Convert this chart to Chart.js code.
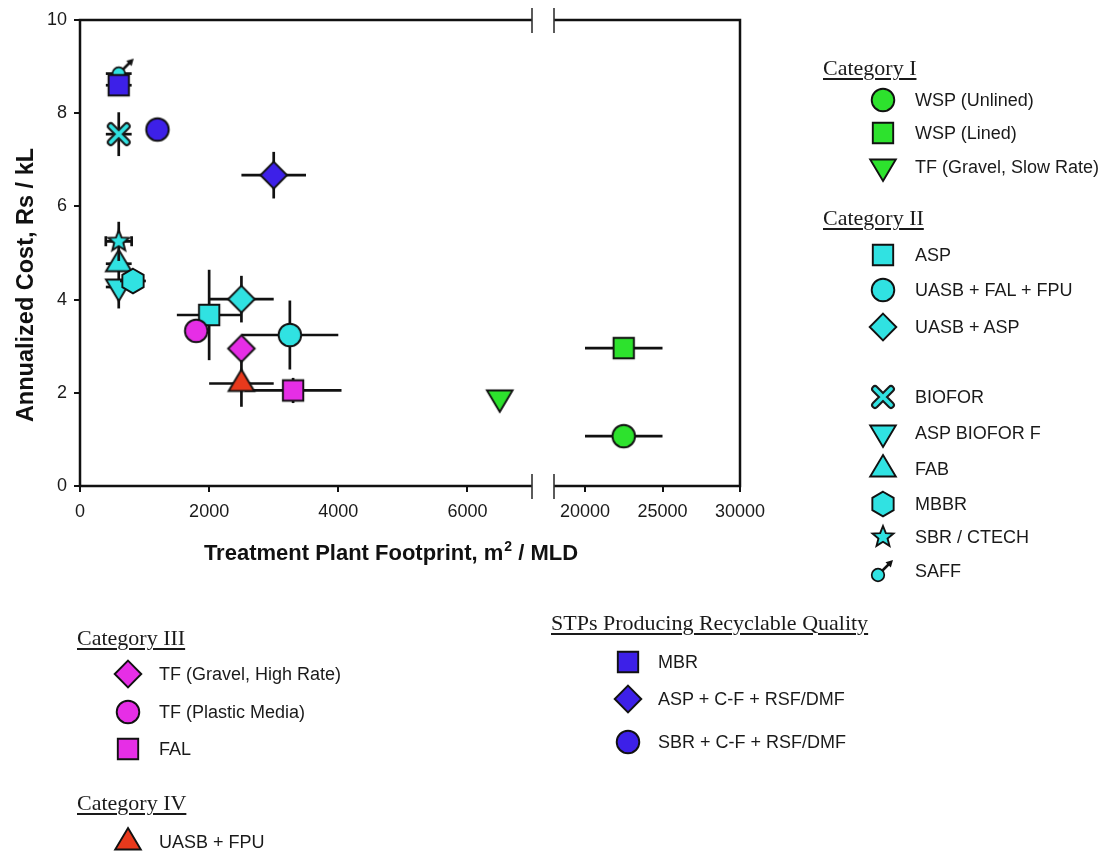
<!DOCTYPE html>
<html><head><meta charset="utf-8">
<script src="https://cdn.jsdelivr.net/npm/chart.js@4.4.1/dist/chart.umd.min.js"></script>
<style>
html,body{margin:0;padding:0;background:#fff;}
#wrap{position:relative;width:1104px;height:854px;overflow:hidden;background:#fff;}
#c{position:absolute;left:0;top:0;}
.lg{position:absolute;font-family:"Liberation Sans",Arial,sans-serif;font-size:18px;color:#1a1a1a;line-height:1;transform:translateY(-50%);white-space:nowrap;}
.cat{position:absolute;font-family:"Liberation Serif","Times New Roman",serif;font-size:22px;color:#1a1a1a;line-height:1;transform:translateY(-50%);text-decoration:underline;text-decoration-thickness:1.5px;text-underline-offset:3px;white-space:nowrap;}
.mk{position:absolute;}
</style></head><body>
<div id="wrap"><canvas id="c" width="1104" height="854"></canvas><div id="legend"></div></div>
<script>
// ---------------- DATA ----------------
const techLabels = [
  "WSP (Unlined)", "WSP (Lined)", "TF (Gravel, Slow Rate)",
  "ASP", "UASB + FAL + FPU", "UASB + ASP",
  "BIOFOR", "ASP BIOFOR F", "FAB", "MBBR", "SBR / CTECH", "SAFF",
  "TF (Gravel, High Rate)", "TF (Plastic Media)", "FAL",
  "UASB + FPU",
  "MBR", "ASP + C-F + RSF/DMF", "SBR + C-F + RSF/DMF"
];
// Treatment plant footprint, m2 / MLD
const footprint    = [22500, 22500, 6500, 2000, 3250, 2500, 600, 600, 600, 820, 600, 600, 2500, 1800, 3300, 2500, 600, 3000, 1200];
const footprintErr = [ 2500,  2500,    0,  500,  750,  500, 200, 200, 200, 200, 200, 200,    0,    0,  750,  500, 200,  500,    0];
// Annualized cost, Rs / kL
const cost    = [1.07, 2.96, 1.89, 3.67, 3.24, 4.01, 7.55, 4.27, 4.77, 4.40, 5.25, 8.85, 2.95, 3.33, 2.05, 2.20, 8.60, 6.67, 7.65];
const costErr = [0,    0,    0,    0.97, 0.74, 0.50, 0.47, 0.46, 0,    0,    0.42, 0,    0,    0,    0.27, 0.50, 0,    0.50, 0];

const xTickValues = [0, 2000, 4000, 6000, 20000, 25000, 30000];
const yTickValues = [0, 2, 4, 6, 8, 10];
const groupTitles = ["Category I", "Category II", "Category III", "Category IV", "STPs Producing Recyclable Quality"];

// ---------------- STYLE ----------------
const GREEN = '#2de22d', CYAN = '#30e2e2', MAGENTA = '#e62ee6', RED = '#e8391c', BLUE = '#3d20e8';
const shapes = ['circle','square','triDown','square','circle','diamond','xcross','triDown','triUp','hexagon','star','male','diamond','circle','square','triUp','square','diamond','circle'];
const fills  = [GREEN,GREEN,GREEN,CYAN,CYAN,CYAN,CYAN,CYAN,CYAN,CYAN,CYAN,CYAN,MAGENTA,MAGENTA,MAGENTA,RED,BLUE,BLUE,BLUE];
const errCaps = techLabels.map((_, i) => i === 10);

// broken x axis: 0–7000 | gap | 18000–30000
const SEG = {leftMax: 7000, rightMin: 18000, rightMax: 30000, leftLen: 452, gapLen: 22, rightLen: 186};
function mapX(v) {
  if (v <= SEG.leftMax) return v / SEG.leftMax * SEG.leftLen;
  return SEG.leftLen + SEG.gapLen + (v - SEG.rightMin) / (SEG.rightMax - SEG.rightMin) * SEG.rightLen;
}
const X_MAX = SEG.leftLen + SEG.gapLen + SEG.rightLen;

function drawShape(c, shape, fill, cx, cy) {
  c.save();
  c.fillStyle = fill; c.strokeStyle = '#111'; c.lineWidth = 1.9; c.lineJoin = 'miter';
  c.beginPath();
  if (shape === 'circle') { c.arc(cx, cy, 11.3, 0, Math.PI * 2); }
  else if (shape === 'square') { c.rect(cx - 10.2, cy - 10.2, 20.4, 20.4); }
  else if (shape === 'diamond') { c.moveTo(cx, cy - 13.3); c.lineTo(cx + 13.3, cy); c.lineTo(cx, cy + 13.3); c.lineTo(cx - 13.3, cy); c.closePath(); }
  else if (shape === 'triUp') { c.moveTo(cx, cy - 14); c.lineTo(cx + 12.8, cy + 7.5); c.lineTo(cx - 12.8, cy + 7.5); c.closePath(); }
  else if (shape === 'triDown') { c.moveTo(cx, cy + 14); c.lineTo(cx + 12.8, cy - 7.5); c.lineTo(cx - 12.8, cy - 7.5); c.closePath(); }
  else if (shape === 'hexagon') {
    for (let k = 0; k < 6; k++) { const a = (-90 + 60 * k) * Math.PI / 180; const px = cx + 12.3 * Math.cos(a), py = cy + 12.3 * Math.sin(a); k ? c.lineTo(px, py) : c.moveTo(px, py); }
    c.closePath();
  }
  else if (shape === 'star') {
    for (let k = 0; k < 10; k++) { const a = (-90 + 36 * k) * Math.PI / 180; const r = k % 2 ? 4.8 : 11; const px = cx + r * Math.cos(a), py = cy + r * Math.sin(a); k ? c.lineTo(px, py) : c.moveTo(px, py); }
    c.closePath();
  }
  if (shape === 'xcross') {
    c.lineCap = 'round';
    const d = 8;
    c.strokeStyle = '#1a1a1a'; c.lineWidth = 7.8;
    c.moveTo(cx - d, cy - d); c.lineTo(cx + d, cy + d); c.moveTo(cx + d, cy - d); c.lineTo(cx - d, cy + d); c.stroke();
    c.beginPath(); c.strokeStyle = fill; c.lineWidth = 3.8;
    c.moveTo(cx - d, cy - d); c.lineTo(cx + d, cy + d); c.moveTo(cx + d, cy - d); c.lineTo(cx - d, cy + d); c.stroke();
  } else if (shape === 'male') {
    c.strokeStyle = '#111'; c.lineWidth = 2.5;
    c.moveTo(cx + 4, cy - 4); c.lineTo(cx + 11, cy - 11); c.stroke();
    c.beginPath(); c.fillStyle = '#111';
    c.moveTo(cx + 15, cy - 15); c.lineTo(cx + 7.5, cy - 12.8); c.lineTo(cx + 12.8, cy - 7.5); c.closePath(); c.fill();
    c.beginPath(); c.fillStyle = fill; c.lineWidth = 1.7;
    c.arc(cx, cy, 6.3, 0, Math.PI * 2); c.fill(); c.stroke();
  } else {
    c.fill(); c.stroke();
  }
  c.restore();
}
function makeMarker(shape, fill) {
  const cv = document.createElement('canvas');
  cv.width = 40; cv.height = 40;
  drawShape(cv.getContext('2d'), shape, fill, 20, 20);
  return cv;
}

// ---------------- PLUGINS ----------------
const errorBarPlugin = {
  id: 'errorBars',
  beforeDatasetDraw(chart, args) {
    const i = args.index;
    const xs = chart.scales.x, ys = chart.scales.y, c = chart.ctx;
    const px = xs.getPixelForValue(mapX(footprint[i])), py = ys.getPixelForValue(cost[i]);
    c.save(); c.strokeStyle = '#111'; c.lineWidth = 2.7; c.lineCap = 'butt';
    if (footprintErr[i] > 0) {
      const x1 = xs.getPixelForValue(mapX(footprint[i] - footprintErr[i]));
      const x2 = xs.getPixelForValue(mapX(footprint[i] + footprintErr[i]));
      c.beginPath(); c.moveTo(x1, py); c.lineTo(x2, py);
      if (errCaps[i]) { c.moveTo(x1, py - 5); c.lineTo(x1, py + 5); c.moveTo(x2, py - 5); c.lineTo(x2, py + 5); }
      c.stroke();
    }
    if (costErr[i] > 0) {
      const y1 = ys.getPixelForValue(cost[i] - costErr[i]);
      const y2 = ys.getPixelForValue(cost[i] + costErr[i]);
      c.beginPath(); c.moveTo(px, y1); c.lineTo(px, y2); c.stroke();
    }
    c.restore();
  }
};

const framePlugin = {
  id: 'frame',
  afterDraw(chart) {
    const c = chart.ctx, a = chart.chartArea, xs = chart.scales.x;
    const L = a.left, R = a.right, T = a.top, B = a.bottom;
    const b1 = xs.getPixelForValue(mapX(SEG.leftMax)), b2 = xs.getPixelForValue(mapX(SEG.rightMin));
    c.save();
    c.strokeStyle = '#111'; c.lineWidth = 2.5; c.lineJoin = 'miter'; c.lineCap = 'butt';
    c.beginPath();
    c.moveTo(b1, T); c.lineTo(L, T); c.lineTo(L, B); c.lineTo(b1, B);
    c.moveTo(b2, T); c.lineTo(R, T); c.lineTo(R, B); c.lineTo(b2, B);
    c.stroke();
    c.strokeStyle = '#333'; c.lineWidth = 1.6;
    c.beginPath();
    [b1, b2].forEach(x => { c.moveTo(x, T - 12); c.lineTo(x, T + 13); c.moveTo(x, B - 12); c.lineTo(x, B + 13); });
    c.stroke();
    // axis titles
    c.fillStyle = '#111';
    c.textBaseline = 'alphabetic';
    const big = 'bold 22px "Liberation Sans", Arial, sans-serif';
    const sup = 'bold 14px "Liberation Sans", Arial, sans-serif';
    const p1 = 'Treatment Plant Footprint, m', p2 = '2', p3 = ' / MLD';
    c.font = big; const w1 = c.measureText(p1).width, w3 = c.measureText(p3).width;
    c.font = sup; const w2 = c.measureText(p2).width + 1;
    let sx = 391 - (w1 + w2 + w3) / 2;
    c.textAlign = 'left';
    c.font = big; c.fillText(p1, sx, 560);
    c.font = sup; c.fillText(p2, sx + w1 + 1, 551);
    c.font = big; c.fillText(p3, sx + w1 + w2, 560);
    c.translate(33, 285); c.rotate(-Math.PI / 2);
    c.textAlign = 'center'; c.font = 'bold 23.5px "Liberation Sans", Arial, sans-serif';
    c.fillText('Annualized Cost, Rs / kL', 0, 0);
    c.restore();
  }
};

// ---------------- CHART ----------------
const tickFont = {family: '"Liberation Sans", Arial, sans-serif', size: 18};
const chart = new Chart(document.getElementById('c'), {
  type: 'scatter',
  data: {
    datasets: techLabels.map((lab, i) => ({
      label: lab,
      data: [{x: mapX(footprint[i]), y: cost[i]}],
      pointStyle: makeMarker(shapes[i], fills[i]),
      pointRadius: 11, pointHoverRadius: 11,
      order: -i
    }))
  },
  options: {
    responsive: false, animation: false,
    layout: {padding: {left: 0, top: 20, right: 364, bottom: 328}},
    plugins: {legend: {display: false}, tooltip: {enabled: false}},
    scales: {
      x: {
        type: 'linear', min: 0, max: X_MAX,
        afterFit(s) { s.height = 40; },
        afterBuildTicks(s) { s.ticks = xTickValues.map(v => ({value: mapX(v)})); },
        ticks: {autoSkip: false, maxRotation: 0, minRotation: 0, padding: 9, color: '#1a1a1a', font: tickFont,
                callback: (v, i) => String(xTickValues[i])},
        grid: {display: true, drawOnChartArea: false, drawTicks: true, tickLength: 6, color: '#111', lineWidth: 2},
        border: {display: false}
      },
      y: {
        type: 'linear', min: 0, max: 10,
        afterFit(s) { s.width = 80; },
        afterBuildTicks(s) { s.ticks = yTickValues.map(v => ({value: v})); },
        ticks: {padding: 7, color: '#1a1a1a', font: tickFont, callback: (v, i) => String(yTickValues[i])},
        grid: {display: true, drawOnChartArea: false, drawTicks: true, tickLength: 6, color: '#111', lineWidth: 2},
        border: {display: false}
      }
    }
  },
  plugins: [errorBarPlugin, framePlugin]
});

// ---------------- LEGEND (HTML text) ----------------
const legendTitles = [
  {t: 0, x: 823, y: 68}, {t: 1, x: 823, y: 218},
  {t: 2, x: 77, y: 638}, {t: 3, x: 77, y: 803}, {t: 4, x: 551, y: 623}
];
const legendItems = [
  {i: 0, mx: 883, tx: 915, y: 100}, {i: 1, mx: 883, tx: 915, y: 133}, {i: 2, mx: 883, tx: 915, y: 167},
  {i: 3, mx: 883, tx: 915, y: 255}, {i: 4, mx: 883, tx: 915, y: 290}, {i: 5, mx: 883, tx: 915, y: 327},
  {i: 6, mx: 883, tx: 915, y: 397}, {i: 7, mx: 883, tx: 915, y: 433}, {i: 8, mx: 883, tx: 915, y: 469},
  {i: 9, mx: 883, tx: 915, y: 504}, {i: 10, mx: 883, tx: 915, y: 537}, {i: 11, mx: 883, tx: 915, y: 571},
  {i: 12, mx: 128, tx: 159, y: 674}, {i: 13, mx: 128, tx: 159, y: 712}, {i: 14, mx: 128, tx: 159, y: 749},
  {i: 15, mx: 128, tx: 159, y: 842},
  {i: 16, mx: 628, tx: 658, y: 662}, {i: 17, mx: 628, tx: 658, y: 699}, {i: 18, mx: 628, tx: 658, y: 742}
];
const lg = document.getElementById('legend');
legendTitles.forEach(o => {
  const d = document.createElement('div'); d.className = 'cat';
  d.style.left = o.x + 'px'; d.style.top = o.y + 'px'; d.textContent = groupTitles[o.t];
  lg.appendChild(d);
});
legendItems.forEach(o => {
  const m = makeMarker(shapes[o.i], fills[o.i]); m.className = 'mk';
  const off = shapes[o.i] === 'male' ? {dx: -5, dy: 4} : {dx: 0, dy: 0};
  m.style.left = (o.mx - 20 + off.dx) + 'px'; m.style.top = (o.y - 20 + off.dy) + 'px';
  lg.appendChild(m);
  const d = document.createElement('div'); d.className = 'lg';
  d.style.left = o.tx + 'px'; d.style.top = o.y + 'px'; d.textContent = techLabels[o.i];
  lg.appendChild(d);
});
</script>
</body></html>
